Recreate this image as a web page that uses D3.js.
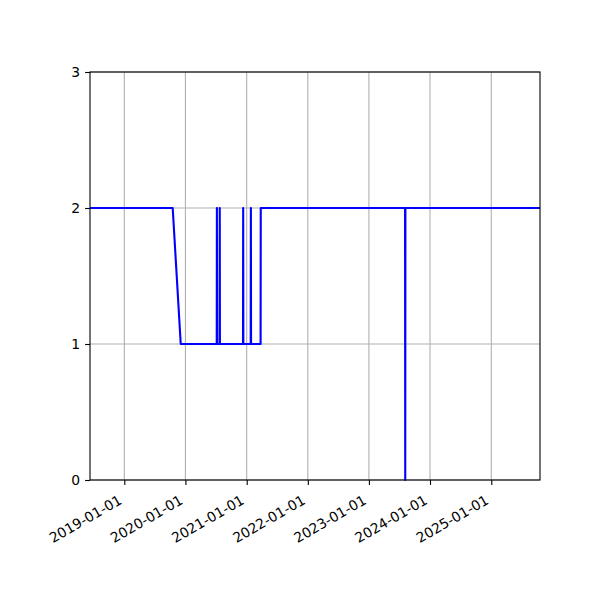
<!DOCTYPE html>
<html>
<head>
<meta charset="utf-8">
<script src="https://cdn.jsdelivr.net/npm/d3@7"></script>
<style>
  body { margin: 0; background: #fff; }
  text { font-family: "DejaVu Sans", sans-serif; }
</style>
</head>
<body>
<div id="chart"></div>
<script>
// readings, one value per date
const dates = [
    "2018-06-10", "2019-10-17", "2019-12-04",
    "2020-07-06", "2020-07-07", "2020-07-08",
    "2020-07-23", "2020-07-24", "2020-07-25",
    "2020-12-10", "2020-12-11", "2020-12-12",
    "2021-01-25", "2021-01-26", "2021-01-27",
    "2021-03-25", "2021-03-26",
    "2023-08-05", "2023-08-06", "2023-08-07",
    "2025-10-19"
];
const values = [
    2, 2, 1,
    1, 2, 1,
    1, 2, 1,
    1, 2, 1,
    1, 2, 1,
    1, 2,
    2, 0, 2,
    2
];
const yTicks = [0, 1, 2, 3];
const xTicks = ["2019-01-01", "2020-01-01", "2021-01-01", "2022-01-01",
    "2023-01-01", "2024-01-01", "2025-01-01"];

const margin = { top: 72, right: 60, bottom: 120, left: 90 },
    width = 600 - margin.left - margin.right,
    height = 600 - margin.top - margin.bottom;

const parseDate = d3.timeParse("%Y-%m-%d");
const data = dates.map((d, i) => ({ date: parseDate(d), value: values[i] }));

const svg = d3.select("#chart")
    .append("svg")
    .attr("width", 600)
    .attr("height", 600)
    .append("g")
    .attr("transform", `translate(${margin.left},${margin.top})`);

const x = d3.scaleTime()
    .domain(d3.extent(data, d => d.date))
    .range([0, width]);

const y = d3.scaleLinear()
    .domain([0, 3])
    .range([height, 0]);

// grid
svg.append("g")
    .selectAll("line")
    .data(xTicks.map(parseDate))
    .join("line")
    .attr("x1", d => x(d)).attr("x2", d => x(d))
    .attr("y1", 0).attr("y2", height)
    .attr("stroke", "#b0b0b0").attr("stroke-width", 1.1);

svg.append("g")
    .selectAll("line")
    .data(yTicks)
    .join("line")
    .attr("x1", 0).attr("x2", width)
    .attr("y1", d => y(d)).attr("y2", d => y(d))
    .attr("stroke", "#b0b0b0").attr("stroke-width", 1.1);

// line
const line = d3.line()
    .x(d => x(d.date))
    .y(d => y(d.value));

svg.append("path")
    .datum(data)
    .attr("d", line)
    .attr("fill", "none")
    .attr("stroke", "#0000ff")
    .attr("stroke-width", 2.1)
    .attr("stroke-linejoin", "round");

// frame
svg.append("rect")
    .attr("width", width).attr("height", height)
    .attr("fill", "none").attr("stroke", "#000").attr("stroke-width", 1.1);

// x axis
const xAxis = svg.append("g")
    .attr("transform", `translate(0,${height})`)
    .call(d3.axisBottom(x)
        .tickValues(xTicks.map(parseDate))
        .tickFormat(d3.timeFormat("%Y-%m-%d"))
        .tickSize(4.9));
xAxis.select(".domain").remove();
xAxis.selectAll(".tick line").attr("stroke", "#000").attr("stroke-width", 1.1);
xAxis.selectAll(".tick text")
    .attr("font-size", 13.9)
    .attr("fill", "#000")
    .attr("text-anchor", "end")
    .attr("x", 0).attr("y", 0).attr("dy", 0)
    .attr("transform", "translate(-2,23) rotate(-30)");

// y axis
const yAxis = svg.append("g")
    .call(d3.axisLeft(y)
        .tickValues(yTicks)
        .tickFormat(d3.format("d"))
        .tickSize(4.9)
        .tickPadding(4.9));
yAxis.select(".domain").remove();
yAxis.selectAll(".tick line").attr("stroke", "#000").attr("stroke-width", 1.1);
yAxis.selectAll(".tick text").attr("font-size", 13.9).attr("fill", "#000");
</script>
</body>
</html>
